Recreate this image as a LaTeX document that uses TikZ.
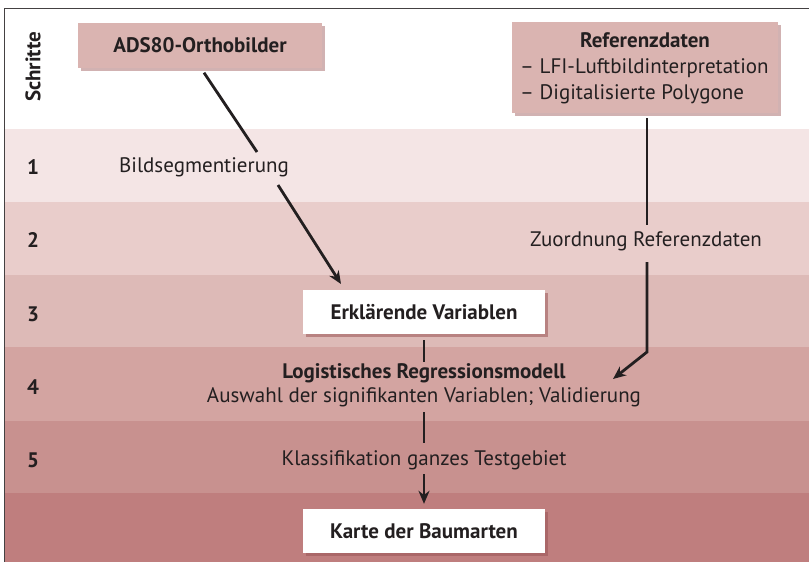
\documentclass[tikz,border=0pt]{standalone}
\usepackage{fontspec}
\setmainfont{PT Sans}
\usetikzlibrary{arrows.meta,shadows}
\definecolor{bandA}{HTML}{F4E5E5}
\definecolor{bandB}{HTML}{E9CDCB}
\definecolor{bandC}{HTML}{DDBAB7}
\definecolor{bandD}{HTML}{D3A4A1}
\definecolor{bandE}{HTML}{C8918F}
\definecolor{bandF}{HTML}{BF7E7E}
\definecolor{boxfill}{HTML}{DAB4B1}
\definecolor{shadowc}{HTML}{9A5556}
\definecolor{ink}{HTML}{231F20}
\tikzset{
  txt/.style={font=\fontsize{21}{25}\selectfont, text=ink, inner sep=0pt},
  btxt/.style={font=\fontsize{21}{25}\selectfont\bfseries, text=ink, inner sep=0pt},
  pinkbox/.style={fill=boxfill, draw=none, drop shadow={shadow xshift=3pt, shadow yshift=-3pt, fill=shadowc, opacity=0.45}},
  whitebox/.style={fill=white, draw=none, drop shadow={shadow xshift=3pt, shadow yshift=-3pt, fill=shadowc, opacity=0.55}},
  conn/.style={draw=ink, line width=2.8pt},
  arr/.style={conn, -{Stealth[length=13pt,width=11pt]}},
}
\begin{document}
\begin{tikzpicture}[x=1pt,y=-1pt]
\useasboundingbox (0,0) rectangle (809,562);
\fill[white] (0,0) rectangle (809,562);
% bands
\fill[bandA] (5,129) rectangle (809,202);
\fill[bandB] (5,202) rectangle (809,275);
\fill[bandC] (5,275) rectangle (809,347);
\fill[bandD] (5,347) rectangle (809,421);
\fill[bandE] (5,421) rectangle (809,493);
\fill[bandF] (5,493) rectangle (809,562);
% frame
\draw[ink!85, line width=1.6pt] (4.5,562) -- (4.5,8.5) -- (809,8.5);
% step column
\node[btxt, rotate=90] (schritte) at (33,67) {Schritte};
\node[btxt] (n1) at (33,167) {1};
\node[btxt] (n2) at (33,240) {2};
\node[btxt] (n3) at (33,314) {3};
\node[btxt] (n4) at (33,387) {4};
\node[btxt] (n5) at (33,460) {5};
% boxes
\node[pinkbox, btxt, minimum width=244pt, minimum height=45pt] (ads) at (200,45) {ADS80-Orthobilder};
\node[pinkbox, minimum width=266pt, minimum height=91pt, inner sep=0pt] (ref) at (645,67.5) {};
\node[btxt] (reftitle) at (645,40) {Referenzdaten};
\node[txt, anchor=west] (ref1) at (520,68) {– LFI-Luftbildinterpretation};
\node[txt, anchor=west] (ref2) at (520,94) {– Digitalisierte Polygone};
\node[whitebox, btxt, minimum width=242pt, minimum height=44pt] (erk) at (424,312) {Erklärende Variablen};
\node[whitebox, btxt, minimum width=242pt, minimum height=44pt] (karte) at (424,531) {Karte der Baumarten};
% labels
\node[txt] (seg) at (204,167) {Bildsegmentierung};
\node[txt] (zuo) at (646,241) {Zuordnung Referenzdaten};
\node[btxt] (log) at (424,373) {Logistisches Regressionsmodell};
\node[txt] (ausw) at (424,397) {Auswahl der signifikanten Variablen; Validierung};
\node[txt] (klas) at (424,460) {Klassifikation ganzes Testgebiet};
% connector coordinates
\coordinate (a1) at ([xshift=4pt,yshift=-5pt]ads.south);
\coordinate (a2) at (257,152);
\coordinate (a3) at (278,185);
\coordinate (a4) at (341,284);
\coordinate (r1) at ([xshift=2pt,yshift=-5pt]ref.south);
\coordinate (r2) at (647,225);
\coordinate (r3) at (647,262);
\coordinate (r4) at (647,352);
\coordinate (r5) at (613,379);
\coordinate (e1) at ([yshift=-6pt]erk.south);
\coordinate (e2) at (424,362);
\coordinate (l1) at (424,412);
\coordinate (l2) at (424,443);
\coordinate (k1) at (424,474);
\coordinate (k2) at ([yshift=5pt]karte.north);
\draw[conn] (a1) -- (a2);
\draw[arr] (a3) -- (a4);
\draw[conn] (r1) -- (r2);
\draw[arr] (r3) -- (r4) -- (r5);
\draw[conn] (e1) -- (e2);
\draw[conn] (l1) -- (l2);
\draw[arr] (k1) -- (k2);
\end{tikzpicture}
\end{document}
